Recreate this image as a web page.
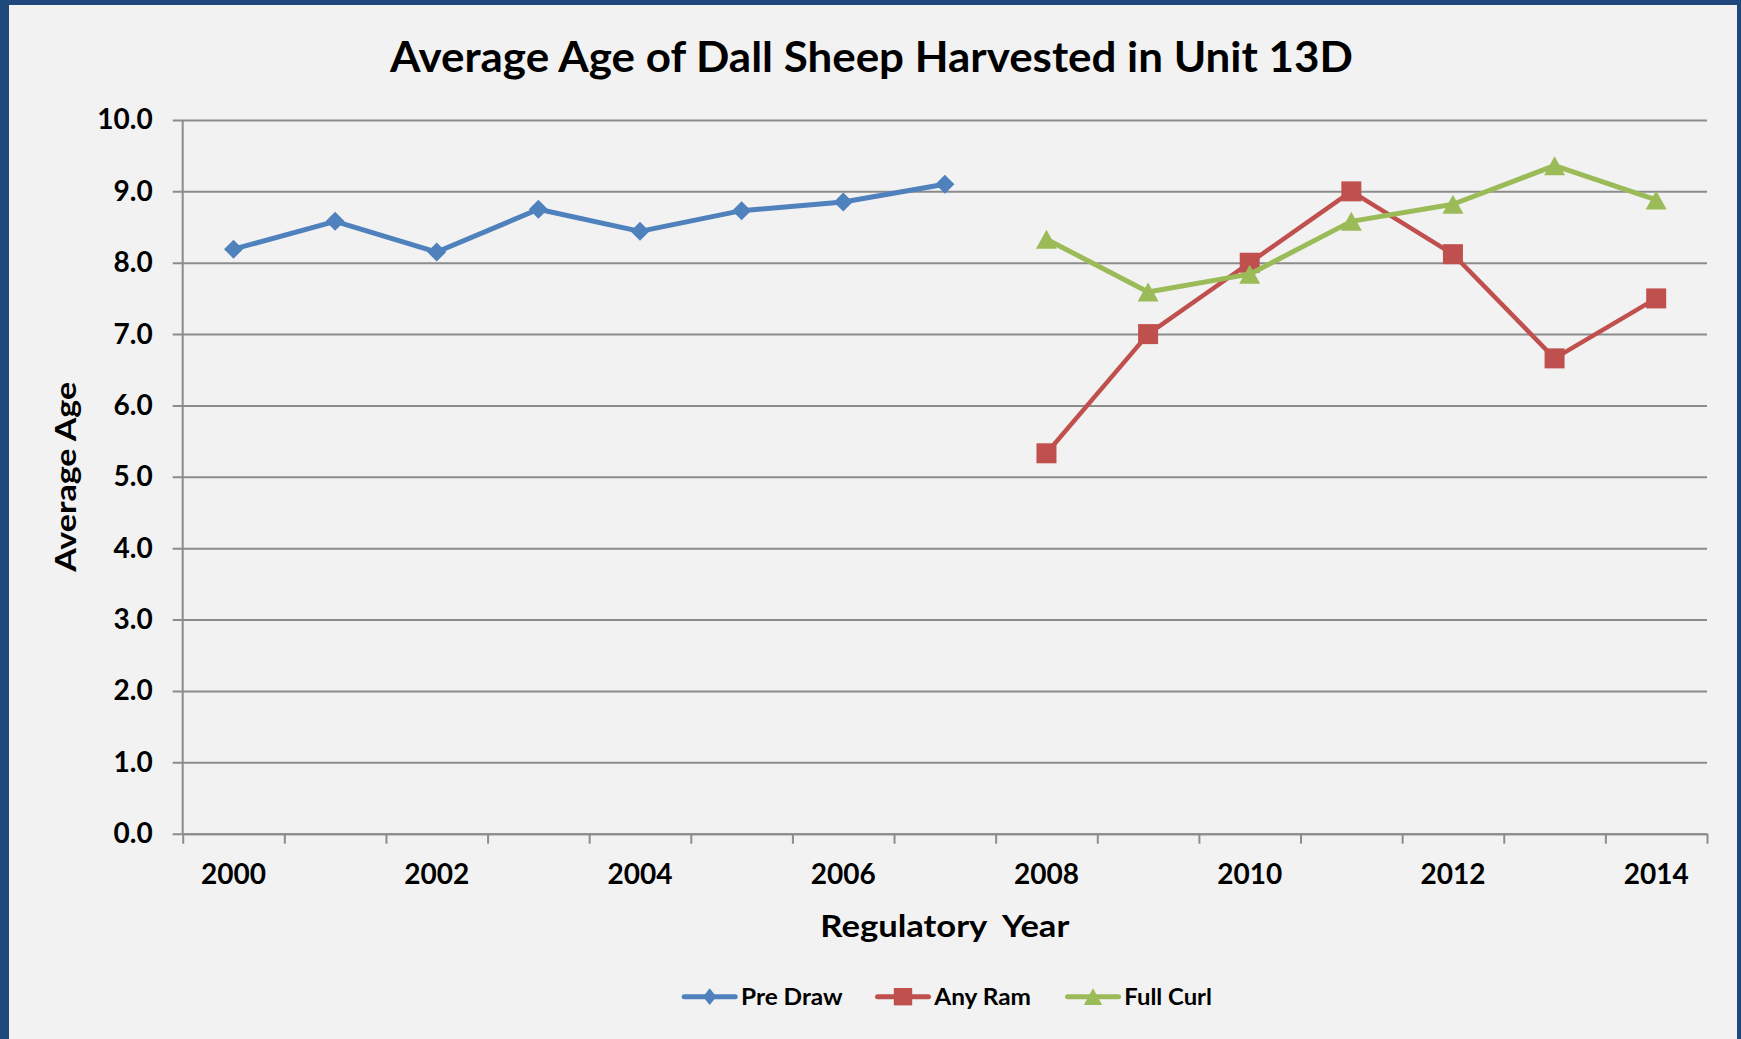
<!DOCTYPE html>
<html>
<head>
<meta charset="utf-8">
<script src="https://cdn.jsdelivr.net/npm/d3@7"></script>
<style>
  html, body { margin: 0; padding: 0; background: #1f497d; }
  svg { display: block; font-family: Lato, "Open Sans", sans-serif; font-weight: bold; }
</style>
</head>
<body>
<script>
var years = [2000, 2001, 2002, 2003, 2004, 2005, 2006, 2007, 2008, 2009, 2010, 2011, 2012, 2013, 2014];
var preDrawYears = [2000, 2001, 2002, 2003, 2004, 2005, 2006, 2007];
var preDraw = [8.19, 8.58, 8.15, 8.75, 8.44, 8.73, 8.85, 9.1];
var lateYears = [2008, 2009, 2010, 2011, 2012, 2013, 2014];
var anyRam = [5.33, 7.0, 8.0, 9.0, 8.12, 6.66, 7.5];
var fullCurl = [8.33, 7.59, 7.84, 8.58, 8.82, 9.36, 8.88];
var yTicks = [0, 1, 2, 3, 4, 5, 6, 7, 8, 9, 10];
var xLabelYears = [2000, 2002, 2004, 2006, 2008, 2010, 2012, 2014];

(function() {
  var w = 1741;
  var h = 1039;
  var left = 182.7;
  var right = 1707;
  var top = 120;
  var bottom = 833.7;
  var gridColor = '#8c8c8c';

  var svg = d3
    .select('body')
    .append('svg')
    .attr('width', w)
    .attr('height', h);

  // panel with the blue frame showing on left, top and right
  svg
    .append('rect')
    .attr('x', 9)
    .attr('y', 5)
    .attr('width', 1737 - 9)
    .attr('height', h - 5)
    .attr('fill', '#f2f2f2');

  var xScale = d3
    .scaleBand()
    .domain(years)
    .range([left, right])
    .padding(0);

  var edgeScale = d3
    .scaleLinear()
    .domain([0, years.length])
    .range([left, right]);

  var yScale = d3
    .scaleLinear()
    .domain([0, 10])
    .range([bottom, top]);

  function cx(year) {
    return xScale(year) + xScale.bandwidth() / 2;
  }

  // gridlines
  var grid = svg
    .append('g')
    .attr('transform', `translate(${right}, 0)`)
    .call(
      d3
        .axisLeft(yScale)
        .tickValues(yTicks)
        .tickSize(right - left + 10)
        .tickFormat('')
    );
  grid.select('.domain').remove();
  grid
    .selectAll('.tick line')
    .attr('stroke', gridColor)
    .attr('stroke-width', 2);

  // y labels
  var yAxis = svg
    .append('g')
    .attr('transform', `translate(${left}, 0)`)
    .call(
      d3
        .axisLeft(yScale)
        .tickValues(yTicks)
        .tickSize(0)
        .tickPadding(30)
        .tickFormat(d3.format('.1f'))
    );
  yAxis.select('.domain').remove();
  yAxis
    .selectAll('text')
    .attr('fill', '#000')
    .style('font-size', '28px')
    .style('font-family', 'Lato, sans-serif')
    .style('font-weight', 'bold');

  // vertical axis line
  svg
    .append('line')
    .attr('x1', left)
    .attr('x2', left)
    .attr('y1', top)
    .attr('y2', bottom)
    .attr('stroke', gridColor)
    .attr('stroke-width', 2);

  // x tick marks between categories
  var xTicks = svg
    .append('g')
    .attr('transform', `translate(0, ${bottom})`)
    .call(
      d3
        .axisBottom(edgeScale)
        .tickValues(d3.range(years.length + 1))
        .tickSize(10)
        .tickSizeOuter(0)
        .tickFormat('')
    );
  xTicks
    .selectAll('line, path')
    .attr('stroke', gridColor)
    .attr('stroke-width', 2);

  // x labels
  var xAxis = svg
    .append('g')
    .attr('transform', `translate(0, ${bottom})`)
    .call(
      d3
        .axisBottom(xScale)
        .tickValues(xLabelYears)
        .tickSize(0)
        .tickPadding(30)
    );
  xAxis.select('.domain').remove();
  xAxis
    .selectAll('text')
    .attr('fill', '#000')
    .style('font-size', '28px')
    .style('font-family', 'Lato, sans-serif')
    .style('font-weight', 'bold');

  // marker shapes: half width, half height
  function diamond(a, b) {
    return `M0,${-b}L${a},0L0,${b}L${-a},0Z`;
  }
  function square(a, b) {
    return `M${-a},${-b}H${a}V${b}H${-a}Z`;
  }
  function triangle(a, b) {
    return `M0,${-b}L${a},${b}L${-a},${b}Z`;
  }

  var series = [
    { name: 'Pre Draw', x: preDrawYears, y: preDraw, color: '#4f81bd', marker: diamond,
      size: [9.5, 9.5], legendSize: [6.7, 8.4], width: 5 },
    { name: 'Any Ram', x: lateYears, y: anyRam, color: '#c0504d', marker: square,
      size: [10, 10], legendSize: [9.2, 8.7], width: 4.5 },
    { name: 'Full Curl', x: lateYears, y: fullCurl, color: '#9bbb59', marker: triangle,
      size: [10.5, 9.5], legendSize: [9.2, 8.4], width: 5 }
  ];

  var line = d3
    .line()
    .x(d => cx(d[0]))
    .y(d => yScale(d[1]));

  series.forEach(function(s) {
    var pts = s.x.map((yr, i) => [yr, s.y[i]]);
    var g = svg.append('g');

    g.append('path')
      .datum(pts)
      .attr('d', line)
      .attr('fill', 'none')
      .attr('stroke', s.color)
      .attr('stroke-width', s.width)
      .attr('stroke-linejoin', 'round')
      .attr('stroke-linecap', 'round');

    g.selectAll('path.mk')
      .data(pts)
      .enter()
      .append('path')
      .attr('class', 'mk')
      .attr('d', s.marker(s.size[0], s.size[1]))
      .attr('transform', d => `translate(${cx(d[0])}, ${yScale(d[1])})`)
      .attr('fill', s.color);
  });

  // titles
  svg
    .append('text')
    .attr('x', 871.4)
    .attr('y', 71.7)
    .attr('text-anchor', 'middle')
    .attr('textLength', 963)
    .attr('lengthAdjust', 'spacingAndGlyphs')
    .style('font-size', '42px')
    .text('Average Age of Dall Sheep Harvested in Unit 13D');

  svg
    .append('text')
    .attr('x', (left + right) / 2)
    .attr('y', 936.7)
    .attr('text-anchor', 'middle')
    .attr('textLength', 249)
    .attr('lengthAdjust', 'spacingAndGlyphs')
    .attr('xml:space', 'preserve')
    .style('font-size', '30px')
    .style('white-space', 'pre')
    .text('Regulatory  Year');

  svg
    .append('text')
    .attr('transform', `translate(76, ${(top + bottom) / 2}) rotate(-90)`)
    .attr('text-anchor', 'middle')
    .attr('textLength', 190)
    .attr('lengthAdjust', 'spacingAndGlyphs')
    .style('font-size', '28px')
    .text('Average Age');

  // legend
  var itemX = [0, 193.3, 383.3];
  var textW = [101.7, 96.7, 87.6];
  var legend = svg.append('g').attr('transform', 'translate(681.7, 996.7)');
  series.forEach(function(s, i) {
    var item = legend.append('g').attr('transform', `translate(${itemX[i]}, 0)`);
    item
      .append('line')
      .attr('x1', 2.5)
      .attr('x2', 53.5)
      .attr('stroke', s.color)
      .attr('stroke-width', 5)
      .attr('stroke-linecap', 'round');
    item
      .append('path')
      .attr('d', s.marker(s.legendSize[0], s.legendSize[1]))
      .attr('transform', 'translate(28, 0)')
      .attr('fill', s.color);
    item
      .append('text')
      .attr('x', 59.3)
      .attr('y', 8.3)
      .attr('textLength', textW[i])
      .attr('lengthAdjust', 'spacingAndGlyphs')
      .style('font-size', '23px')
      .text(s.name);
  });
})();
</script>
</body>
</html>
